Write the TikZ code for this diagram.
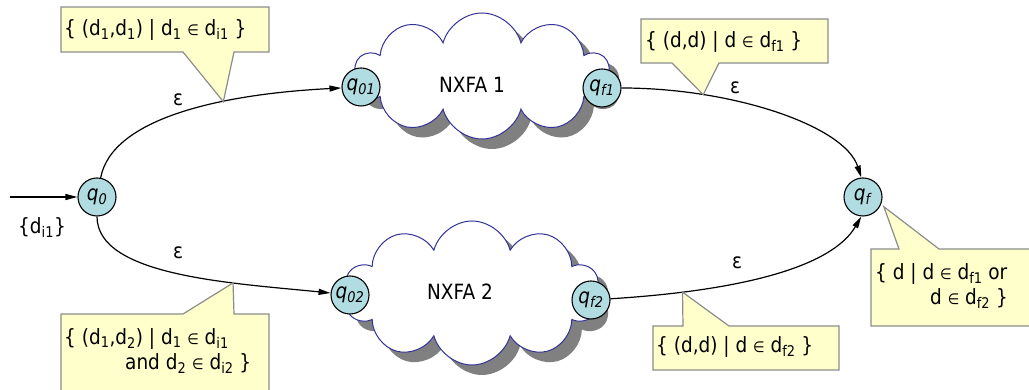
\documentclass[tikz,border=0pt]{standalone}
\usepackage{fontspec}
\setmainfont[FakeStretch=0.88]{DejaVu Sans}
\usetikzlibrary{shapes.symbols,shadows,arrows.meta,calc}
\definecolor{statefill}{RGB}{176,220,226}
\definecolor{notefill}{RGB}{255,255,204}
\definecolor{notedraw}{RGB}{140,140,140}
\definecolor{cloudline}{RGB}{51,51,153}
\newcommand{\memb}{{\fontsize{15}{15}\selectfont ∈}}

\begin{document}
\begin{tikzpicture}[x=1pt,y=1pt,
    font=\fontsize{21}{25}\selectfont,
    state/.style={circle,draw,line width=1.1pt,fill=statefill,minimum size=38pt,inner sep=0pt},
    cloudbox/.style={cloud,cloud puffs=10,cloud ignores aspect,draw=cloudline,line width=1pt,fill=white,
      drop shadow={shadow xshift=10pt,shadow yshift=-10pt,fill=black!50,opacity=1}},
    trans/.style={line width=1.2pt,-{Triangle[length=12pt,width=6pt]}},
    note/.style={fill=notefill,draw=notedraw,line width=1.2pt}]
  \useasboundingbox (0,0) rectangle (1029,390);

  \node[cloudbox,minimum width=256pt,minimum height=126pt] (c1) at (482,314) {};
  \node[cloudbox,minimum width=256pt,minimum height=144pt] (c2) at (472,97) {};
  \node (n1) at (472,305) {NXFA 1};
  \node (n2) at (460,98) {NXFA 2};

  \node[state] (q0) at (97,193) {\textit{q}\textsubscript{\textit{0}}};
  \node[state] (q01) at (361,303) {\textit{q}\textsubscript{\textit{01}}};
  \node[state] (qf1) at (602,302) {\textit{q}\textsubscript{\textit{f1}}};
  \node[state] (q02) at (350,95) {\textit{q}\textsubscript{\textit{02}}};
  \node[state] (qf2) at (591,90) {\textit{q}\textsubscript{\textit{f2}}};
  \node[state] (qf) at (863,193) {\textit{q}\textsubscript{\textit{f}}};

  \coordinate (init) at (10,193);
  \draw[trans] (init) -- (q0);
  \node (din) at (42,162) {\{d\textsubscript{i1}\}};

  \draw[trans] (q0) .. controls +(15,79) and +(-139,-7) .. (q01) coordinate[pos=0.65] (t1);
  \draw[trans] (qf1) .. controls +(130,0) and +(-17,52) .. (qf.95) coordinate[pos=0.25] (t2);
  \draw[trans] (q0) .. controls +(0,-79) and +(-119,12) .. (q02) coordinate[pos=0.69] (t3);
  \draw[trans] (qf2) .. controls +(160,10) and +(-28,-48) .. (qf.265) coordinate[pos=0.185] (t4);
  \coordinate (t5) at ($(qf)+(-25:23)$);

  \node (e1) at (178,290) {ε};
  \node (e2) at (735,302) {ε};
  \node (e3) at (178,137) {ε};
  \node (e4) at (737,127) {ε};

  \filldraw[note] (61,338) -- (183,338) -- (t1) -- (234,338) -- (269,338) -- (269,383) -- (61,383) -- cycle;
  \filldraw[note] (641,327) -- (672,327) -- (t2) -- (719,327) -- (828,327) -- (828,371) -- (641,371) -- cycle;
  \filldraw[note] (61,-2) -- (61,76) -- (183,76) -- (t3) -- (234,76) -- (269,76) -- (269,-2);
  \filldraw[note] (653,20) -- (653,64) -- (683,64) -- (t4) -- (729,64) -- (839,64) -- (839,20) -- cycle;
  \filldraw[note] (1031,141) -- (939,141) -- (t5) -- (899,141) -- (871,141) -- (871,64) -- (1031,64);

  \node[anchor=west,inner sep=0pt] (l1) at (64,360) {\{ (d\textsubscript{1},d\textsubscript{1}) | d\textsubscript{1} \memb{} d\textsubscript{i1} \}};
  \node[anchor=west,inner sep=0pt] (l2) at (645,348) {\{ (d,d) | d \memb{} d\textsubscript{f1} \}};
  \node[anchor=north west,inner sep=0pt,align=left] (l3) at (64,62) {\{ (d\textsubscript{1},d\textsubscript{2}) | d\textsubscript{1} \memb{} d\textsubscript{i1}\\ \hspace*{61pt}and d\textsubscript{2} \memb{} d\textsubscript{i2} \}};
  \node[anchor=west,inner sep=0pt] (l4) at (656,43) {\{ (d,d) | d \memb{} d\textsubscript{f2} \}};
  \node[anchor=north west,inner sep=0pt,align=left] (l5) at (875,127) {\{ d | d \memb{} d\textsubscript{f1} or\\ \hspace*{55pt}d \memb{} d\textsubscript{f2} \}};
\end{tikzpicture}
\end{document}
